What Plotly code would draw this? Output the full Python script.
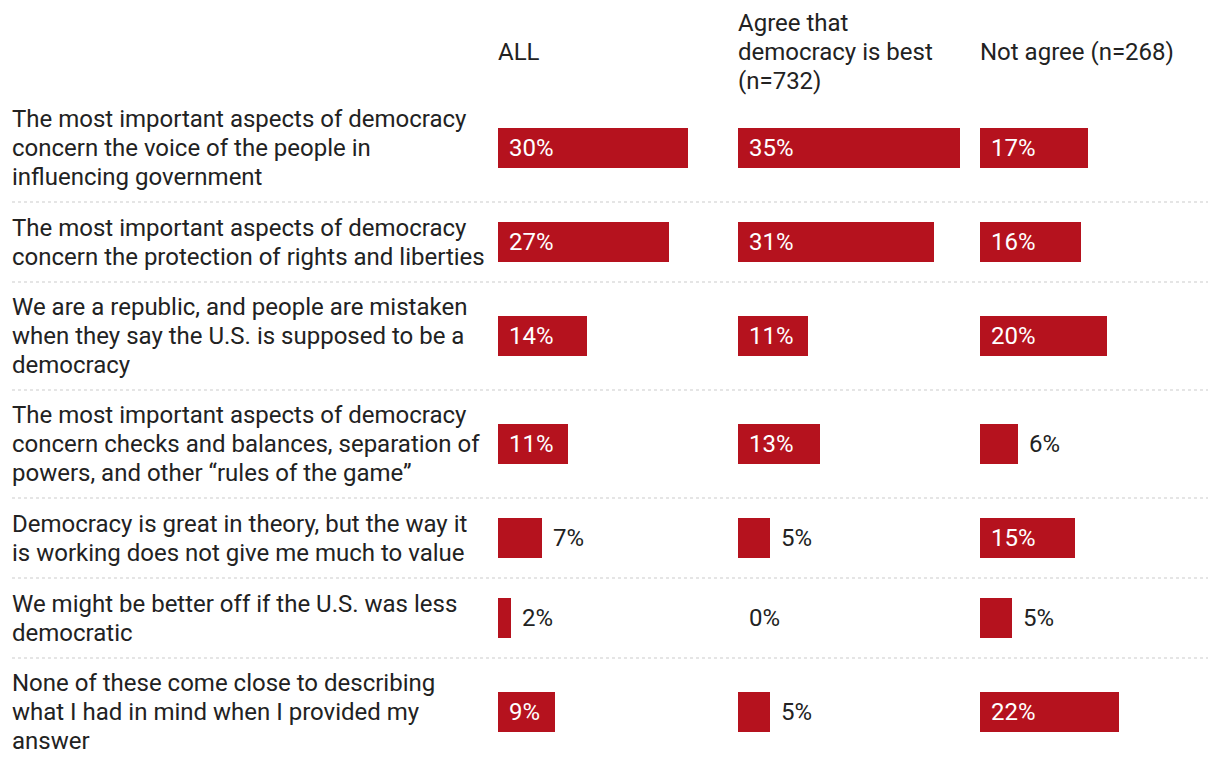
import plotly.graph_objects as go

# ---------------- data ----------------
statements = [
    "The most important aspects of democracy<br>concern the voice of the people in<br>influencing government",
    "The most important aspects of democracy<br>concern the protection of rights and liberties",
    "We are a republic, and people are mistaken<br>when they say the U.S. is supposed to be a<br>democracy",
    "The most important aspects of democracy<br>concern checks and balances, separation of<br>powers, and other “rules of the game”",
    "Democracy is great in theory, but the way it<br>is working does not give me much to value",
    "We might be better off if the U.S. was less<br>democratic",
    "None of these come close to describing<br>what I had in mind when I provided my<br>answer",
]
groups = ["ALL", "Agree that<br>democracy is best<br>(n=732)", "Not agree (n=268)"]
all_pct = [30, 27, 14, 11, 7, 2, 9]
agree_pct = [35, 31, 11, 13, 5, 0, 5]
notagree_pct = [17, 16, 20, 6, 15, 5, 22]
series = [all_pct, agree_pct, notagree_pct]

# ---------------- layout settings ----------------
OFF = 8  # page body margin
W, H = 1220, 766
FONT = "Roboto"
FS = 24
LINE_H = 29
BAR = "#b5121e"
TXT = "#222222"
col_left = [498 - OFF, 738 - OFF, 980 - OFF]
col_w = 240
px_per_pct = 6.33
inside_min = 8
label_x = 12 - OFF
rule_right = 1208 - OFF
header_y = 52 - OFF
first_top = 94 - OFF


def text_lines(x, xref, y, text, color=TXT, xshift=0):
    parts = text.split("<br>")
    n = len(parts)
    out = []
    for k, p in enumerate(parts):
        out.append(dict(
            x=x, y=y + (k - (n - 1) / 2) * LINE_H, xref=xref, yref="y",
            text=p, showarrow=False, xanchor="left", yanchor="middle",
            align="left", xshift=xshift,
            font=dict(family=FONT, size=FS, color=color),
        ))
    return out


# row geometry derived from the number of label lines
centers, bounds = [], []
top = first_top
for s in statements:
    half = 12 + 14 * (s.count("<br>") + 1)
    centers.append(top + half)
    top += 2 * half
    bounds.append(top)
bounds = bounds[:-1]

fig = go.Figure()
annotations = []
for i, vals in enumerate(series):
    ax = "x" if i == 0 else f"x{i+1}"
    fig.add_trace(go.Bar(
        x=vals, y=centers, orientation="h", width=40,
        marker=dict(color=BAR, line=dict(width=0)),
        xaxis=ax, yaxis="y", hoverinfo="skip", showlegend=False,
    ))
    for v, c in zip(vals, centers):
        inside = v >= inside_min
        annotations.append(dict(
            x=0 if inside else v, y=c, xref=ax, yref="y",
            text=f"{v}%", showarrow=False, xanchor="left", yanchor="middle",
            xshift=9,
            font=dict(family=FONT, size=FS, color="white" if inside else TXT),
        ))
    annotations += text_lines(col_left[i] / W, "paper", header_y, groups[i], xshift=-2)

for s, c in zip(statements, centers):
    annotations += text_lines(label_x / W, "paper", c, s, xshift=-2)

shapes = [dict(type="line", xref="paper", yref="y", x0=label_x / W, x1=rule_right / W,
               y0=b, y1=b, line=dict(color="#cccccc", width=1.2, dash="dot"))
          for b in bounds]

layout = dict(
    width=W, height=H, margin=dict(l=0, r=0, t=0, b=0),
    paper_bgcolor="white", plot_bgcolor="white",
    yaxis=dict(range=[H, 0], domain=[0, 1], visible=False, fixedrange=True),
    annotations=annotations, shapes=shapes, bargap=0,
)
for i in range(3):
    key = "xaxis" if i == 0 else f"xaxis{i+1}"
    layout[key] = dict(domain=[col_left[i] / W, (col_left[i] + col_w) / W],
                       range=[0, col_w / px_per_pct], visible=False,
                       anchor="y", fixedrange=True)
fig.update_layout(**layout)
fig.write_html("out.html")
